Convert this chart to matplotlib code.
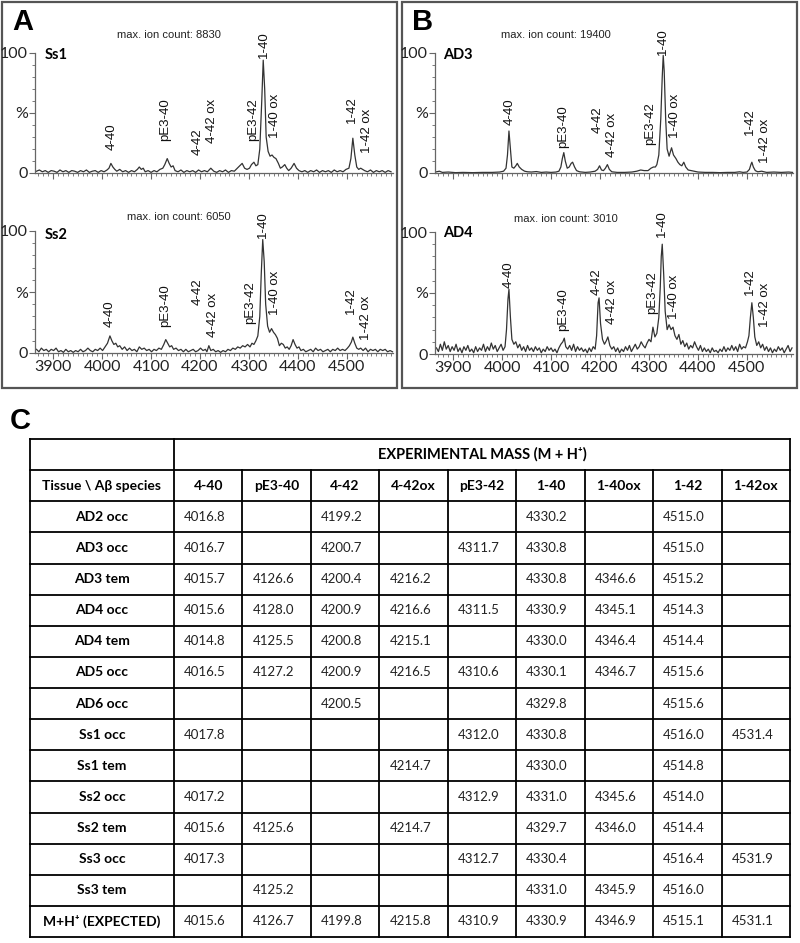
import numpy as np
import matplotlib
matplotlib.use("Agg")
import matplotlib.pyplot as plt
from matplotlib.patches import Rectangle
from matplotlib.ticker import MultipleLocator, FixedLocator

W, H = 800, 943

# ---- spectra (m/z, relative intensity %) ----
ss1_mz = [3866, 3872, 3878, 3884, 3890, 3896, 3902, 3908, 3914, 3920, 3926, 3932, 3938, 3944, 3950, 3956,
          3962, 3968, 3974, 3980, 3986, 3992, 3998, 4004, 4010, 4014, 4018, 4022, 4026, 4030, 4036, 4042,
          4048, 4054, 4060, 4066, 4072, 4076, 4080, 4084, 4088, 4094, 4100, 4106, 4112, 4118, 4124, 4128,
          4133, 4137, 4141, 4145, 4149, 4155, 4161, 4167, 4173, 4179, 4185, 4191, 4197, 4203, 4209, 4215,
          4222, 4228, 4234, 4240, 4246, 4252, 4258, 4264, 4270, 4276, 4281, 4286, 4291, 4296, 4301, 4305,
          4310, 4314, 4318, 4322, 4326, 4329, 4332, 4335, 4339, 4343, 4347, 4351, 4355, 4360, 4364, 4368,
          4373, 4377, 4381, 4386, 4392, 4397, 4402, 4408, 4414, 4420, 4426, 4432, 4438, 4444, 4450, 4456,
          4462, 4468, 4474, 4480, 4486, 4492, 4498, 4504, 4508, 4512, 4516, 4520, 4524, 4528, 4532, 4536,
          4542, 4548, 4554, 4560, 4566, 4572, 4578, 4584, 4590]
ss1_int = [1.5, 2.5, 1, 2, 0.5, 2, 1.5, 0.5, 2.5, 1, 2, 0.5, 2, 1.5, 0.5, 2,
           1, 2.5, 0.5, 1.5, 2, 0.5, 2, 1, 2.5, 4, 8, 5, 3, 1.5, 3, 1,
           2, 0.5, 2, 1, 3, 5, 3, 4, 1, 2, 0.5, 2, 1, 3, 4, 7,
           12, 8, 5, 6, 2, 1, 2.5, 0.5, 2, 1, 2, 0.5, 2.5, 1, 2, 1,
           4, 1.5, 0.5, 2, 1, 2.5, 0.5, 2, 1.5, 4, 6, 8, 4, 3, 4, 7,
           9, 6, 7, 20, 60, 94, 70, 30, 18, 14, 15, 13, 12, 8, 4, 5,
           7, 4, 2, 4, 8, 4, 2, 1, 2, 0.5, 2, 1, 2.5, 0.5, 2, 1,
           2, 0.5, 2.5, 1, 2, 1, 3, 4, 12, 29, 15, 5, 3, 4, 3, 2,
           1, 2.5, 0.5, 2, 1, 2, 0.5, 2, 1]

ss2_mz = [3866, 3871, 3876, 3881, 3886, 3891, 3896, 3901, 3906, 3911, 3916, 3921, 3926, 3931, 3936, 3941,
          3946, 3951, 3956, 3961, 3966, 3971, 3976, 3981, 3986, 3991, 3996, 4001, 4006, 4011, 4016, 4020,
          4024, 4028, 4032, 4036, 4041, 4046, 4051, 4056, 4061, 4066, 4071, 4076, 4081, 4086, 4091, 4096,
          4101, 4106, 4111, 4116, 4121, 4126, 4130, 4134, 4138, 4142, 4146, 4151, 4156, 4161, 4166, 4171,
          4176, 4181, 4186, 4191, 4196, 4201, 4206, 4211, 4214, 4218, 4222, 4227, 4232, 4237, 4242, 4247,
          4252, 4257, 4262, 4267, 4272, 4277, 4282, 4287, 4292, 4297, 4302, 4306, 4310, 4314, 4318, 4322,
          4325, 4328, 4331, 4334, 4338, 4342, 4346, 4350, 4354, 4358, 4362, 4366, 4370, 4374, 4378, 4382,
          4386, 4390, 4394, 4398, 4402, 4406, 4411, 4416, 4421, 4426, 4431, 4436, 4441, 4446, 4451, 4456,
          4461, 4466, 4471, 4476, 4481, 4486, 4491, 4496, 4501, 4505, 4509, 4512, 4516, 4520, 4524, 4528,
          4533, 4538, 4543, 4548, 4553, 4558, 4563, 4568, 4573, 4578, 4583, 4588, 4593]
ss2_int = [3, 1, 4, 2, 3, 1, 3, 2, 4, 1, 2, 0.5, 3, 1, 2, 0.5,
           2, 1, 3, 1, 2, 4, 2, 1, 3, 2, 4, 2, 5, 8, 14, 10,
           7, 8, 5, 6, 3, 5, 2, 4, 2, 3, 1, 5, 3, 4, 2, 3,
           1, 3, 2, 4, 3, 7, 11, 8, 5, 6, 3, 4, 2, 3, 1, 3,
           1, 2, 3, 1, 2, 4, 2, 3, 1, 6, 2, 3, 1, 2, 0.5, 2,
           1, 3, 2, 4, 3, 5, 4, 6, 5, 7, 5, 8, 7, 10, 14, 30,
           65, 93, 75, 40, 22, 17, 20, 17, 15, 12, 6, 8, 7, 4, 5, 3,
           6, 11, 7, 4, 5, 2, 3, 1, 2, 3, 1, 4, 2, 3, 1, 2,
           3, 1, 3, 2, 4, 2, 3, 2, 4, 6, 9, 13, 8, 4, 3, 4,
           2, 4, 1, 3, 2, 3, 1, 3, 2, 3, 1, 2, 1]

ad3_mz = [3866, 3872, 3878, 3890, 3905, 3920, 3940, 3960, 3980, 3995, 4003, 4008, 4011, 4014, 4017, 4020,
          4024, 4028, 4031, 4035, 4040, 4046, 4052, 4060, 4070, 4080, 4090, 4100, 4110, 4116, 4120, 4123,
          4126, 4129, 4133, 4137, 4141, 4144, 4148, 4152, 4158, 4170, 4180, 4190, 4195, 4199, 4203, 4207,
          4211, 4215, 4219, 4224, 4235, 4250, 4265, 4275, 4283, 4290, 4298, 4304, 4309, 4313, 4316, 4320,
          4324, 4327, 4329, 4331, 4334, 4337, 4341, 4346, 4350, 4355, 4359, 4363, 4367, 4371, 4375, 4380,
          4386, 4392, 4400, 4415, 4430, 4445, 4460, 4475, 4485, 4492, 4500, 4505, 4508, 4510, 4513, 4517,
          4522, 4530, 4540, 4555, 4570, 4585, 4593]
ad3_int = [1, 1.5, 0.5, 0.8, 0.3, 0.5, 0.3, 0.5, 0.5, 0.8, 1.5, 4, 15, 35, 20, 5,
           4, 6, 8, 5, 3, 1.5, 1, 0.8, 1.2, 0.5, 0.8, 0.5, 0.8, 1.5, 5, 12,
           17, 10, 4, 5, 8, 9, 5, 2, 1, 0.5, 0.8, 1.5, 3, 6, 2.5, 2,
           4, 7, 3, 1, 0.5, 0.5, 0.8, 1.5, 2.5, 2, 2, 4, 5, 5, 7, 15,
           45, 80, 98, 85, 45, 20, 14, 21, 15, 12, 9, 7, 6, 9, 5, 2.5,
           2, 1.5, 0.8, 0.5, 0.5, 0.3, 0.5, 0.5, 1, 0.5, 0.8, 3, 7, 9, 5, 2,
           1, 1.5, 0.5, 0.8, 0.5, 0.8, 0.5]

ad4_mz = [3866, 3870, 3874, 3878, 3882, 3886, 3890, 3894, 3898, 3902, 3906, 3910, 3914, 3918, 3922, 3926,
          3930, 3934, 3938, 3942, 3946, 3950, 3954, 3958, 3962, 3966, 3970, 3974, 3978, 3982, 3986, 3990,
          3994, 3998, 4002, 4006, 4009, 4012, 4014, 4017, 4020, 4024, 4028, 4032, 4036, 4040, 4044, 4048,
          4052, 4056, 4060, 4064, 4068, 4072, 4076, 4080, 4084, 4088, 4092, 4096, 4100, 4104, 4108, 4112,
          4116, 4120, 4124, 4127, 4130, 4134, 4138, 4142, 4146, 4150, 4154, 4158, 4162, 4166, 4170, 4174,
          4178, 4182, 4186, 4190, 4193, 4196, 4198, 4201, 4205, 4209, 4213, 4216, 4220, 4224, 4228, 4232,
          4236, 4240, 4244, 4248, 4252, 4256, 4260, 4264, 4268, 4272, 4276, 4280, 4284, 4288, 4292, 4296,
          4300, 4304, 4308, 4312, 4316, 4320, 4323, 4325, 4327, 4330, 4333, 4337, 4341, 4345, 4349, 4353,
          4357, 4361, 4365, 4369, 4373, 4377, 4381, 4385, 4389, 4393, 4397, 4401, 4405, 4409, 4413, 4417,
          4421, 4425, 4429, 4433, 4437, 4441, 4445, 4449, 4453, 4457, 4461, 4465, 4469, 4473, 4477, 4481,
          4485, 4489, 4493, 4497, 4501, 4504, 4507, 4510, 4513, 4516, 4520, 4524, 4528, 4532, 4536, 4540,
          4544, 4548, 4552, 4556, 4560, 4564, 4568, 4572, 4576, 4580, 4584, 4588, 4592]
ad4_int = [5, 2, 8, 3, 10, 4, 7, 2, 6, 3, 8, 2, 5, 1, 6, 3,
           7, 2, 4, 1, 6, 2, 5, 3, 8, 2, 6, 3, 9, 4, 7, 2,
           5, 8, 3, 6, 20, 45, 53, 30, 12, 8, 10, 5, 8, 3, 6, 2,
           7, 3, 5, 2, 6, 3, 5, 1, 4, 2, 6, 3, 5, 2, 4, 1,
           5, 8, 10, 13, 6, 4, 7, 3, 8, 2, 6, 3, 5, 2, 4, 1,
           5, 2, 6, 4, 15, 42, 46, 25, 12, 8, 11, 14, 7, 4, 6, 2,
           5, 1, 4, 2, 6, 3, 7, 2, 5, 8, 4, 6, 10, 7, 5, 9,
           12, 10, 22, 14, 17, 30, 55, 80, 90, 65, 35, 20, 24, 20, 22, 15,
           12, 16, 8, 11, 6, 9, 4, 7, 5, 10, 6, 3, 7, 2, 5, 2,
           4, 1, 5, 2, 3, 1, 4, 2, 6, 2, 5, 3, 7, 3, 6, 2,
           8, 4, 6, 5, 10, 15, 30, 42, 30, 14, 7, 10, 5, 8, 3, 6,
           2, 5, 1, 4, 2, 6, 3, 5, 1, 4, 7, 2, 5]

peak_names = ["4-40", "pE3-40", "4-42", "4-42 ox", "pE3-42", "1-40", "1-40 ox", "1-42", "1-42 ox"]
samples = ["Ss1", "Ss2", "AD3", "AD4"]
ion_counts = [8830, 6050, 19400, 3010]

# ---- table C ----
species = ["4-40", "pE3-40", "4-42", "4-42ox", "pE3-42", "1-40", "1-40ox", "1-42", "1-42ox"]
tissues = ["AD2 occ", "AD3 occ", "AD3 tem", "AD4 occ", "AD4 tem", "AD5 occ", "AD6 occ",
           "Ss1 occ", "Ss1 tem", "Ss2 occ", "Ss2 tem", "Ss3 occ", "Ss3 tem", "M+H\u207a (EXPECTED)"]
masses = [
    ["4016.8", "", "4199.2", "", "", "4330.2", "", "4515.0", ""],
    ["4016.7", "", "4200.7", "", "4311.7", "4330.8", "", "4515.0", ""],
    ["4015.7", "4126.6", "4200.4", "4216.2", "", "4330.8", "4346.6", "4515.2", ""],
    ["4015.6", "4128.0", "4200.9", "4216.6", "4311.5", "4330.9", "4345.1", "4514.3", ""],
    ["4014.8", "4125.5", "4200.8", "4215.1", "", "4330.0", "4346.4", "4514.4", ""],
    ["4016.5", "4127.2", "4200.9", "4216.5", "4310.6", "4330.1", "4346.7", "4515.6", ""],
    ["", "", "4200.5", "", "", "4329.8", "", "4515.6", ""],
    ["4017.8", "", "", "", "4312.0", "4330.8", "", "4516.0", "4531.4"],
    ["", "", "", "4214.7", "", "4330.0", "", "4514.8", ""],
    ["4017.2", "", "", "", "4312.9", "4331.0", "4345.6", "4514.0", ""],
    ["4015.6", "4125.6", "", "4214.7", "", "4329.7", "4346.0", "4514.4", ""],
    ["4017.3", "", "", "", "4312.7", "4330.4", "", "4516.4", "4531.9"],
    ["", "4125.2", "", "", "", "4331.0", "4345.9", "4516.0", ""],
    ["4015.6", "4126.7", "4199.8", "4215.8", "4310.9", "4330.9", "4346.9", "4515.1", "4531.1"],
]

# label placement (m/z, bottom of text in %) for each spectrum
label_pos = {
    "Ss1": [(4019, 19), (4128, 27), (4195, 15), (4225, 25), (4308, 27), (4331, 96), (4353, 29), (4510, 42), (4540, 17)],
    "Ss2": [(4016, 21), (4128, 21), (4196, 39), (4226, 13), (4303, 24), (4329, 94), (4353, 31), (4508, 32), (4538, 11)],
    "AD3": [(4015, 40), (4125, 21), (4195, 33), (4225, 13), (4303, 23), (4329, 98), (4353, 29), (4507, 32), (4537, 8)],
    "AD4": [(4013, 54), (4125, 19), (4194, 48), (4224, 25), (4306, 33), (4327, 96), (4351, 29), (4506, 48), (4536, 22)],
}

SANS = ["Lato", "DejaVu Sans"]
ARIAL = ["Liberation Sans", "DejaVu Sans"]
LINE = "#333333"
AXC = "#666666"

fig = plt.figure(figsize=(W / 100, H / 100), dpi=100)
over = fig.add_axes([0, 0, 1, 1])
over.set_xlim(0, W)
over.set_ylim(H, 0)
over.axis("off")

# panel frames and letters
for x0 in (2, 402):
    over.add_patch(Rectangle((x0, 2), 395, 386, fill=False, lw=1.6, ec="#555555"))
over.text(12, 22, "A", fontsize=21, fontweight="bold", family=ARIAL, va="center", ha="left")
over.text(412, 22, "B", fontsize=21, fontweight="bold", family=ARIAL, va="center", ha="left")
over.text(10, 421, "C", fontsize=21, fontweight="bold", family=ARIAL, va="center", ha="left")


def px_axes(x0, y_top, x1, y_bot):
    return fig.add_axes([x0 / W, 1 - y_bot / H, (x1 - x0) / W, (y_bot - y_top) / H])


boxes = [(35, 53, 393, 173), (35, 231, 393, 353), (435, 53, 793, 173), (435, 232, 793, 354)]
traces = [(ss1_mz, ss1_int), (ss2_mz, ss2_int), (ad3_mz, ad3_int), (ad4_mz, ad4_int)]
count_pos = [(169, 35), (179, 217), (556, 35), (566, 219)]
name_pos = [(45, 55), (45, 235), (443, 55), (443, 233)]

for i, (box, (mz, inten), name, cnt) in enumerate(zip(boxes, traces, samples, ion_counts)):
    ax = px_axes(*box)
    ax.set_facecolor("none")
    ax.plot(mz, inten, color=LINE, lw=0.9, clip_on=False)
    ax.set_xlim(3863, 4594)
    ax.set_ylim(0, 100)
    for s in ("top", "right"):
        ax.spines[s].set_visible(False)
    for s in ("left", "bottom"):
        ax.spines[s].set_color(AXC)
        ax.spines[s].set_linewidth(0.9)
    ax.xaxis.set_major_locator(MultipleLocator(100))
    ax.xaxis.set_minor_locator(MultipleLocator(10))
    ax.yaxis.set_major_locator(FixedLocator([0, 50, 100]))
    ax.yaxis.set_minor_locator(MultipleLocator(10))
    ax.set_yticklabels(["0", "%", "100"])
    ax.tick_params(which="major", direction="out", length=4, width=0.8, color=AXC,
                   labelsize=11.5, pad=1)
    ax.tick_params(which="minor", direction="out", length=2, width=0.6, color=AXC)
    if i in (1, 3):
        ax.set_xticks(np.arange(3900, 4600, 100))
    else:
        ax.tick_params(axis="x", labelbottom=False)
    for lab in ax.get_xticklabels() + ax.get_yticklabels():
        lab.set_family(SANS)
        lab.set_color("#222222")
    for txt, (m, yb) in zip(peak_names, label_pos[name]):
        ax.text(m, yb, txt, rotation=90, ha="center", va="bottom", fontsize=9.5,
                family=ARIAL, color="#111111", clip_on=False)
    over.text(count_pos[i][0], count_pos[i][1], f"max. ion count: {cnt}", fontsize=8,
              family=ARIAL, ha="center", va="center", color="#222222")
    over.text(name_pos[i][0], name_pos[i][1], name, fontsize=10.5, fontweight="bold",
              family=SANS, ha="left", va="center")

# ---- table drawing ----
tx0, tx1 = 30, 790
c0 = 174
cw = (tx1 - c0) / len(species)
ty0 = 439
rh = (937 - ty0) / (len(tissues) + 2)
n_rows = len(tissues) + 2
ty1 = ty0 + rh * n_rows
lw = 1.3

for r in range(n_rows + 1):
    over.plot([tx0, tx1], [ty0 + r * rh] * 2, color="black", lw=lw, solid_capstyle="projecting")
over.plot([tx0, tx0], [ty0, ty1], color="black", lw=lw)
over.plot([tx1, tx1], [ty0, ty1], color="black", lw=lw)
over.plot([c0, c0], [ty0, ty1], color="black", lw=lw)
for k in range(1, len(species)):
    xk = c0 + k * cw
    over.plot([xk, xk], [ty0 + rh, ty1], color="black", lw=lw)

over.text((c0 + tx1) / 2, ty0 + rh / 2, "EXPERIMENTAL MASS (M + H\u207a)", fontsize=10.5,
          fontweight="bold", family=SANS, ha="center", va="center")
over.text((tx0 + c0) / 2, ty0 + 1.5 * rh, "Tissue \\ A\u03b2 species", fontsize=10,
          fontweight="bold", family=SANS, ha="center", va="center")
for k, sp in enumerate(species):
    over.text(c0 + (k + 0.5) * cw, ty0 + 1.5 * rh, sp, fontsize=10, fontweight="bold",
              family=SANS, ha="center", va="center")

for r, (tis, vals) in enumerate(zip(tissues, masses)):
    yc = ty0 + (r + 2.5) * rh
    over.text((tx0 + c0) / 2, yc, tis, fontsize=10, fontweight="bold", family=SANS,
              ha="center", va="center")
    for k, v in enumerate(vals):
        if v:
            over.text(c0 + k * cw + 10, yc, v, fontsize=9.5, family=SANS,
                      ha="left", va="center", color="#222222")

fig.savefig("out.png", dpi=100)
